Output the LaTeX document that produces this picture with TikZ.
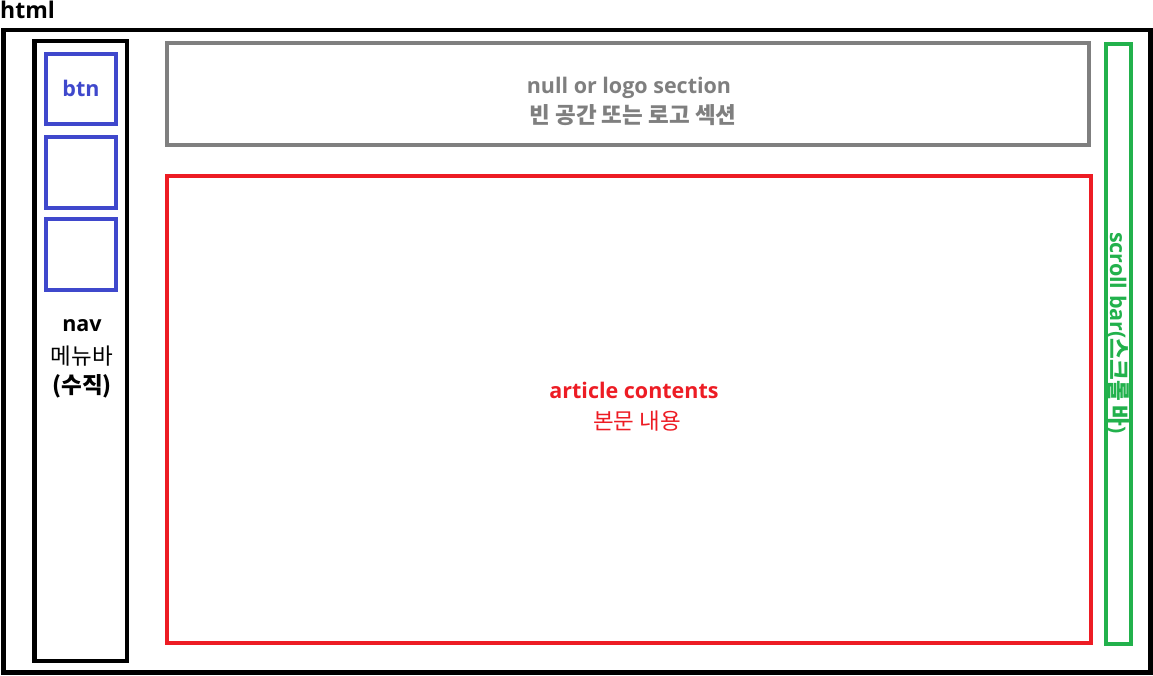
\documentclass[tikz,border=0pt]{standalone}
\usepackage{fontspec}
\setmainfont{Open Sans}
\newfontfamily\kr{Noto Sans CJK KR}
\definecolor{btnblue}{RGB}{63,72,204}
\definecolor{logogray}{RGB}{127,127,127}
\definecolor{artred}{RGB}{237,28,36}
\definecolor{scrollgreen}{RGB}{34,177,76}
\newcommand{\latsize}{\fontsize{21.5}{26}\selectfont}
\newcommand{\krsize}{\fontsize{22.5}{27}\selectfont}

\begin{document}
\begin{tikzpicture}[x=1pt,y=-1pt,
    frame/.style={line width=4.5pt},
    part/.style={line width=4pt},
    txt/.style={inner sep=0pt,font=\latsize\bfseries},
    krtxt/.style={inner sep=0pt,font=\krsize\kr}]
    \useasboundingbox (0,0) rectangle (1153,675);

    % page
    \node[txt,font=\fontsize{23}{27}\selectfont\bfseries,anchor=base west] (html) at (0,18.5) {html};
    \draw[frame] (3.5,30) rectangle (1150.5,672.5);

    % nav with buttons
    \draw[frame] (34.5,41) rectangle (127,661);
    \draw[part,btnblue] (45.5,54) rectangle (115.5,123.5);
    \draw[part,btnblue] (45.5,137) rectangle (115.5,208);
    \draw[part,btnblue] (45.5,219) rectangle (115.5,290);
    \node[txt,btnblue] (btn) at (81,88) {btn};
    \node[txt] (nav) at (82,326) {nav};
    \node[krtxt] (navkr) at (82,356) {메뉴바};
    \node[krtxt,font=\krsize\kr\bfseries] (navsub) at (82,386) {(수직)};

    % logo section
    \draw[part,logogray] (167,43) rectangle (1089,145);
    \node[txt,logogray] (logo) at (629,88) {null or logo section};
    \node[krtxt,logogray,font=\krsize\kr\bfseries] (logokr) at (633,115) {빈 공간 또는 로고 섹션};

    % article
    \draw[part,artred] (167,176) rectangle (1091,642.5);
    \node[txt,artred] (art) at (634,390) {article contents};
    \node[krtxt,artred] (artkr) at (637,421) {본문 내용};

    % scroll bar
    \draw[part,scrollgreen] (1105.5,44) rectangle (1130.5,643.5);
    \node[txt,scrollgreen,rotate=-90] (scroll) at (1118,333) {scroll bar({\krsize\kr 스크롤 바})};
\end{tikzpicture}
\end{document}
